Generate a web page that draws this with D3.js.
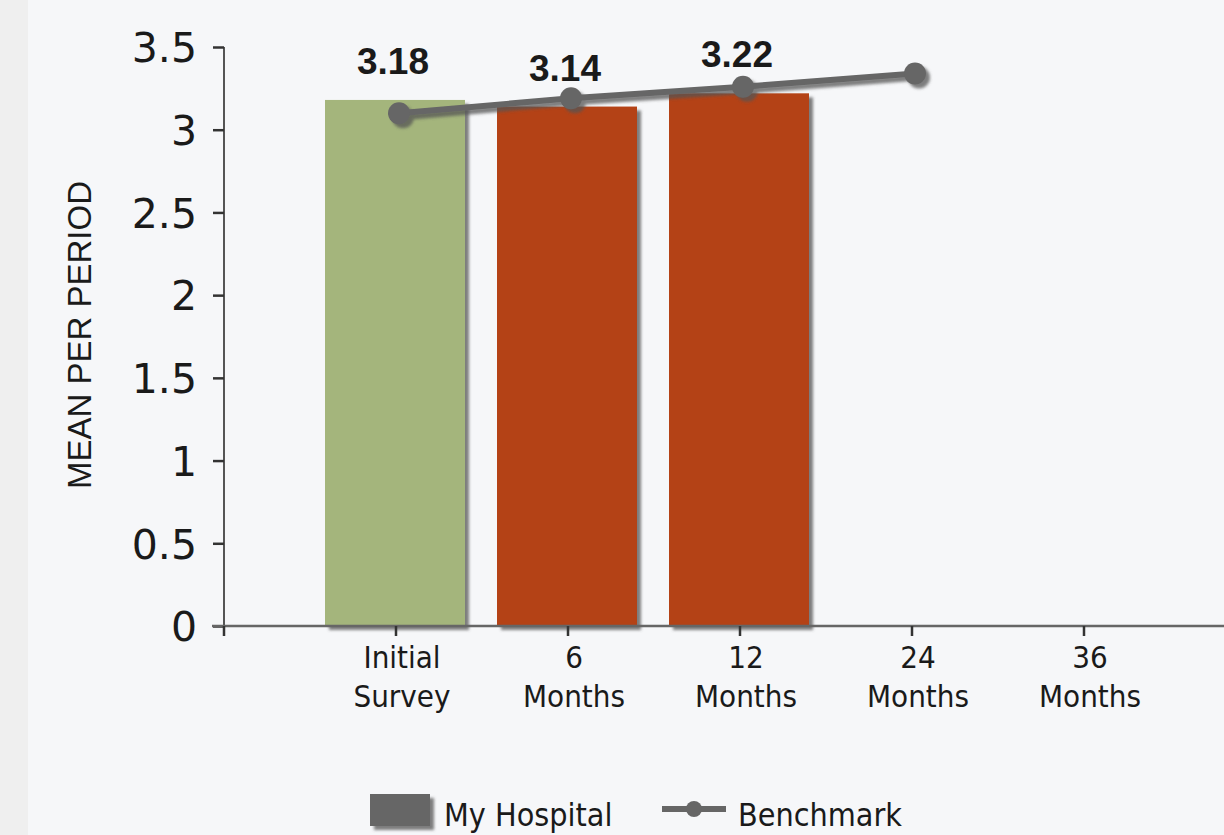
<!DOCTYPE html>
<html>
<head>
<meta charset="utf-8">
<script src="https://cdn.jsdelivr.net/npm/d3@7"></script>
<style>
  html, body { margin: 0; padding: 0; background: #f5f7fa; }
  svg { display: block; }
</style>
</head>
<body>
<svg id="chart" width="1224" height="835"></svg>
<script>
const categories = ["Initial Survey", "6 Months", "12 Months", "24 Months", "36 Months"];
const categoryLines = [["Initial", "Survey"], ["6", "Months"], ["12", "Months"], ["24", "Months"], ["36", "Months"]];
const hospitalValues = [3.18, 3.14, 3.22, null, null];
const hospitalColors = ["#a4b57b", "#b44213", "#b44213", "#b44213", "#b44213"];
const benchmarkValues = [3.10, 3.19, 3.26, 3.34, null];
const yTicks = [0, 0.5, 1, 1.5, 2, 2.5, 3, 3.5];
const yTickLabels = ["0", "0.5", "1", "1.5", "2", "2.5", "3", "3.5"];
const yTitle = "MEAN PER PERIOD";
const legendLabels = ["My Hospital", "Benchmark"];

const svg = d3.select("#chart");
const W = 1224, H = 835;

// background panels
svg.append("rect").attr("x", 0).attr("y", 0).attr("width", 28).attr("height", H).attr("fill", "#efefef");
svg.append("rect").attr("x", 28).attr("y", 0).attr("width", W - 28).attr("height", H).attr("fill", "#f6f7f9");

const defs = svg.append("defs");
const f = defs.append("filter").attr("id", "shadow").attr("x", "-10%").attr("y", "-10%").attr("width", "130%").attr("height", "130%");
f.append("feDropShadow").attr("dx", 4).attr("dy", 4).attr("stdDeviation", 1.5)
  .attr("flood-color", "#555").attr("flood-opacity", 0.75);

const x0 = 224, yBase = 626;
const y = d3.scaleLinear().domain([0, 3.5]).range([yBase, 47]);
// positions: origin at 0, categories at 1..5
const xl = d3.scaleLinear().domain([0, 1]).range([x0, x0 + 172]);
const cx = i => xl(i + 1);
const barW = 140;

// bars
const barsData = categories.map((c, i) => ({ c, i, v: hospitalValues[i] })).filter(d => d.v != null);
svg.append("g").selectAll("rect").data(barsData).join("rect")
  .attr("x", d => cx(d.i) - barW / 2 - 1)
  .attr("y", d => y(d.v))
  .attr("width", barW)
  .attr("height", d => yBase - y(d.v))
  .attr("fill", d => hospitalColors[d.i])
  .attr("filter", "url(#shadow)");

// axes
const yAxis = d3.axisLeft(y).tickValues(yTicks).tickFormat((d, i) => yTickLabels[i]).tickSize(11).tickPadding(16);
const gy = svg.append("g").attr("transform", `translate(${x0},0)`).call(yAxis);
gy.select(".domain").attr("stroke", "#555").attr("stroke-width", 2).attr("d", `M0,${y(3.5)}V${yBase}`);
gy.selectAll(".tick line").attr("stroke", "#333").attr("stroke-width", 2.5);
gy.selectAll(".tick text").attr("font-family", "DejaVu Sans, sans-serif").attr("font-size", 41).attr("fill", "#1a1a1a").attr("dy", "0.36em");

// x axis line
svg.append("line").attr("x1", x0 - 12).attr("x2", W).attr("y1", yBase).attr("y2", yBase).attr("stroke", "#666").attr("stroke-width", 2.5);
svg.append("line").attr("x1", x0).attr("x2", x0).attr("y1", yBase).attr("y2", yBase + 10).attr("stroke", "#333").attr("stroke-width", 2.5);
const gx = svg.append("g");
categories.forEach((c, i) => {
  gx.append("line").attr("x1", cx(i)).attr("x2", cx(i)).attr("y1", yBase).attr("y2", yBase + 10).attr("stroke", "#333").attr("stroke-width", 2.5);
  const t = gx.append("text").attr("x", cx(i) + 6).attr("text-anchor", "middle")
    .attr("font-family", "DejaVu Sans Condensed, DejaVu Sans, sans-serif").attr("font-size", 31).attr("fill", "#1a1a1a");
  categoryLines[i].forEach((ln, k) => t.append("tspan").attr("x", cx(i) + 6).attr("y", 668 + k * 39).text(ln));
});

// y title
svg.append("text").attr("transform", `translate(91,${335}) rotate(-90)`).attr("text-anchor", "middle")
  .attr("font-family", "Liberation Sans, Arial, sans-serif").attr("font-size", 33).attr("fill", "#1a1a1a").text(yTitle);

// data labels
svg.append("g").selectAll("text").data(barsData).join("text")
  .attr("x", d => cx(d.i) - 3)
  .attr("y", d => y(d.v) - 26)
  .attr("text-anchor", "middle")
  .attr("font-family", "Liberation Sans, Arial, sans-serif").attr("font-weight", "bold").attr("font-size", 37)
  .attr("fill", "#1a1a1a").text(d => d.v.toFixed(2));

// benchmark line
const bData = benchmarkValues.map((v, i) => ({ v, i })).filter(d => d.v != null);
const line = d3.line().x(d => cx(d.i) + 3).y(d => y(d.v));
const gb = svg.append("g").attr("filter", "url(#shadow)");
gb.append("path").datum(bData).attr("d", line).attr("fill", "none").attr("stroke", "#666").attr("stroke-width", 6);
gb.selectAll("circle").data(bData).join("circle").attr("cx", d => cx(d.i) + 3).attr("cy", d => y(d.v)).attr("r", 11).attr("fill", "#666");

// legend
const lg = svg.append("g");
lg.append("rect").attr("x", 370).attr("y", 794).attr("width", 60).attr("height", 32).attr("fill", "#666").attr("filter", "url(#shadow)");
lg.append("text").attr("x", 444).attr("y", 826).attr("font-family", "DejaVu Sans Condensed, DejaVu Sans, sans-serif").attr("font-size", 32).attr("fill", "#1a1a1a").text(legendLabels[0]);
lg.append("line").attr("x1", 662).attr("x2", 726).attr("y1", 809).attr("y2", 809).attr("stroke", "#666").attr("stroke-width", 6);
lg.append("circle").attr("cx", 694).attr("cy", 809).attr("r", 8).attr("fill", "#666");
lg.append("text").attr("x", 738).attr("y", 826).attr("font-family", "DejaVu Sans Condensed, DejaVu Sans, sans-serif").attr("font-size", 32).attr("fill", "#1a1a1a").text(legendLabels[1]);
</script>
</body>
</html>
